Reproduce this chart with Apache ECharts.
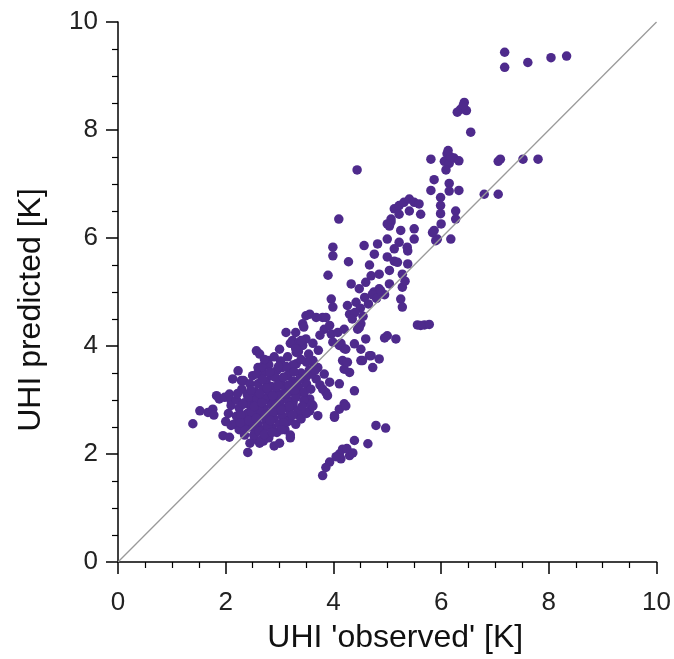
<!DOCTYPE html>
<html>
<head>
<meta charset="utf-8">
<script src="https://cdn.jsdelivr.net/npm/echarts@6/dist/echarts.min.js"></script>
<style>
html,body{margin:0;padding:0;background:#fff;}
#chart{width:674px;height:659px;}
</style>
</head>
<body>
<div id="chart"></div>
<script>
// Observed vs predicted UHI [K]
const xTicks = [0, 2, 4, 6, 8, 10];
const yTicks = [0, 2, 4, 6, 8, 10];
const oneToOne = [[0, 0], [10, 10]];

const ptsHighOutliers = [
  [7.18,9.44],[7.18,9.16],[7.61,9.25],[8.04,9.34],[8.33,9.37],
  [7.10,7.46],[7.52,7.46],[7.80,7.46],[7.06,7.42],
  [6.80,6.81],[7.06,6.81]
];
const ptsUpper = [
  [6.43,8.51],[6.36,8.38],[6.47,8.36],[6.41,8.45],[6.30,8.33],
  [6.55,7.96],
  [5.81,7.46],[6.11,7.56],[6.06,7.42],[6.15,7.38],[6.24,7.48],[6.18,7.50],[6.33,7.43],[6.09,7.26],[6.13,7.62],
  [5.87,7.08],[5.81,6.88],[6.15,7.01],[6.15,6.87],[6.33,6.88],[5.99,6.75],[5.99,6.60],[5.99,6.45],[6.00,6.26],[6.27,6.50],[6.27,6.35],
  [5.13,6.54],[5.22,6.60],[5.31,6.66],[5.41,6.72],[5.50,6.66],[5.59,6.63],[5.62,6.44],[5.41,6.50],[5.22,6.44],[5.07,6.30],
  [5.04,6.22],[5.00,5.98],[5.25,6.14],[5.50,6.17],[5.50,5.98],[5.87,6.14],[5.93,5.98],[6.18,5.98],[5.22,5.92],[5.37,5.83],
  [5.84,6.10],[5.90,5.95],[5.00,6.26],[5.07,6.35]
];
const ptsMid = [
  [4.10,6.35],[3.99,5.83],[3.99,5.67],[3.90,5.31],[4.28,5.56],[4.33,5.15],[4.57,5.86],[4.67,5.50],[4.82,5.89],[4.76,5.70],
  [5.00,5.65],[5.13,5.80],[5.13,5.57],[5.38,5.76],[5.38,5.52],[5.19,5.55],[4.70,5.30],[4.60,5.18],[4.48,5.06],[4.85,5.33],
  [4.85,5.06],[5.04,5.40],[5.04,5.15],[5.28,5.33],[5.28,5.09],[5.33,5.20],[4.95,4.95],[4.75,5.00],
  [4.44,7.26],
  [3.96,4.87],[3.99,4.72],[4.26,4.75],[4.30,4.59],[4.42,4.81],[4.50,4.70],[4.58,4.90],[4.65,4.78],[4.72,4.95],[4.80,4.88],
  [4.88,5.02],[4.40,4.62],[4.55,4.55],[4.35,4.50],
  [5.25,4.87],[5.28,4.72],
  [5.56,4.39],[5.69,4.39],[5.78,4.40],[5.62,4.38],
  [5.00,4.19],[5.16,4.13],[4.95,4.15]
];
const ptsLowerMid = [
  [4.60,4.13],[4.51,3.94],[4.70,3.82],[4.85,3.76],[4.54,3.73],[4.73,3.60],[4.39,4.04],[4.11,4.01],[4.20,3.95],[3.99,4.07],
  [4.17,3.73],[4.30,3.51],[4.20,3.57],[4.39,3.17],[4.20,2.93],[4.11,2.83],[4.02,2.68],
  [3.62,3.70],[3.55,3.55],[3.68,3.39],[3.75,3.28],[3.86,3.14],[3.49,3.02],[3.60,2.92],
  [3.49,4.56],[3.80,4.53],[3.83,4.31],[3.75,4.20],[4.51,4.41],[4.45,4.31],
  [3.56,4.59],[3.68,4.53],[3.43,4.41],[3.86,4.53],[3.93,4.38],[3.96,4.22],[4.08,4.25],[4.20,4.31],[4.14,4.05],[4.23,3.94],
  [4.26,3.70],[4.48,4.34],[4.67,3.82],[4.51,3.73],
  [3.25,4.07],[3.43,4.01],[3.31,3.88],[3.62,3.73],[3.71,3.60],[3.59,3.48],[3.83,3.48],[3.93,3.33],[3.80,3.20],[3.89,3.08],
  [4.11,3.30],[4.23,2.89],[4.02,2.71],[3.49,3.42],[3.19,3.54],[3.06,3.27],[3.37,3.14],[3.56,3.02],[3.25,2.96],[3.56,2.80],
  [3.37,2.71],[3.19,2.65],[3.71,2.71],[3.62,2.89],[3.49,2.95]
];
const ptsLowStreak = [
  [4.79,2.53],[4.97,2.48],[4.39,2.25],[4.64,2.19],[4.17,2.09],[4.30,1.97],[4.36,2.02],[4.11,2.00],[4.14,1.91],[3.93,1.85],
  [3.86,1.75],[3.80,1.60],[4.05,1.95],[4.25,2.10]
];
const ptsDense = [
  [1.39,2.56],[1.52,2.80],[1.67,2.77],[1.76,2.83],[1.78,2.72],[1.83,3.08],[1.88,3.02],[1.98,3.05],[2.07,3.11],[2.10,2.99],
  [2.13,3.39],[2.23,3.54],[2.29,3.36],[1.95,2.34],[2.07,2.31],[2.41,2.03],[2.54,2.28],[2.63,2.20],[2.70,2.24],[2.10,2.53],
  [2.57,3.91],[2.63,3.85],[2.78,3.73],[3.00,3.94],[3.12,4.25],[3.24,4.10],[3.37,4.07],[3.49,4.13],[3.31,3.67],[2.33,3.36],
  [2.00,2.60],[2.05,2.75],[2.10,2.90],[2.15,2.55],[2.20,2.70],[2.20,3.00],[2.25,2.45],[2.25,2.85],[2.30,3.20],[2.30,2.60],
  [2.35,2.95],[2.35,2.35],[2.40,2.75],[2.40,3.10],[2.45,2.50],[2.45,2.90],[2.45,3.30],[2.50,2.65],[2.50,3.00],[2.50,3.45],
  [2.55,2.40],[2.55,2.80],[2.55,3.15],[2.60,2.55],[2.60,2.95],[2.60,3.30],[2.60,3.60],[2.65,2.70],[2.65,3.05],[2.65,2.25],
  [2.70,2.45],[2.70,2.85],[2.70,3.20],[2.70,3.50],[2.75,2.60],[2.75,3.00],[2.75,3.35],[2.80,2.30],[2.80,2.75],[2.80,3.10],
  [2.80,3.65],[2.85,2.50],[2.85,2.90],[2.85,3.25],[2.85,3.45],[2.90,2.65],[2.90,3.00],[2.90,3.80],[2.95,2.40],[2.95,2.80],
  [2.95,3.15],[2.95,3.55],[3.00,2.55],[3.00,2.95],[3.00,3.30],[3.05,2.70],[3.05,3.10],[3.05,3.60],[3.10,2.45],[3.10,2.85],
  [3.10,3.25],[3.15,2.60],[3.15,3.00],[3.15,3.45],[3.15,3.80],[3.20,2.35],[3.20,2.75],[3.20,3.15],[3.20,4.05],[3.25,2.90],
  [3.25,3.35],[3.25,3.65],[3.30,2.55],[3.30,3.05],[3.30,4.25],[3.35,2.80],[3.35,3.25],[3.35,3.90],[3.40,2.65],[3.40,3.50],
  [3.40,4.10],[3.45,3.00],[3.45,4.35],[3.50,2.75],[3.50,3.30],[3.50,3.70],[2.90,2.15],[3.00,2.20],[3.20,2.30],[2.45,2.20],
  [2.35,2.50],[2.52,2.52],[2.62,2.82],[2.72,3.02],[2.78,2.52],[2.88,2.78],[2.98,3.08],[3.08,2.58],[3.18,2.88],[2.42,3.05],
  [2.58,3.48],[2.68,3.62],[2.92,3.42],[3.02,3.72],[3.12,3.62],[2.38,2.62],[2.48,2.78],[2.58,3.02],[2.68,3.38],[2.82,3.52],
  [2.28,2.72],[2.32,2.92],[2.43,2.62],[2.53,2.88],[2.63,3.12],[2.73,2.72],[2.83,2.62],[2.93,2.92],[3.03,2.82],[3.13,3.12],
  [2.47,3.18],[2.57,2.66],[2.67,2.95],[2.77,3.22],[2.87,3.08],[2.97,3.28],[3.07,3.42],[3.17,3.28],[3.27,3.52],[3.37,3.38],
  [2.22,3.12],[2.27,2.58],[2.52,2.35],[2.62,2.42],[2.72,2.36],[2.86,2.40],[3.04,2.45],[3.24,2.72],[3.42,2.88],[3.28,3.18],
  [3.46,3.15],[3.58,3.20],[3.66,3.55],[3.54,3.85],[3.40,3.75],[3.62,4.05],[3.72,3.92],[3.30,3.95],[2.98,3.62],[2.72,3.75]
];

const allPoints = [].concat(ptsHighOutliers, ptsUpper, ptsMid, ptsLowerMid, ptsLowStreak, ptsDense);

const FONT = 'Liberation Sans, Arial, Helvetica, sans-serif';
const chart = echarts.init(document.getElementById('chart'), null, {renderer: 'canvas'});
const axisCommon = {
  type: 'value', min: 0, max: 10, interval: 2,
  nameLocation: 'middle',
  nameTextStyle: {fontFamily: FONT, fontSize: 32, color: '#111'},
  axisLine: {show: true, onZero: false, lineStyle: {color: '#000', width: 1.5}},
  axisTick: {show: true, inside: false, length: 12, lineStyle: {color: '#000', width: 1.5}},
  minorTick: {show: true, splitNumber: 4, length: 6, lineStyle: {color: '#000', width: 1.2}},
  splitLine: {show: false},
  axisLabel: {fontFamily: FONT, fontSize: 26, color: '#222'}
};
chart.setOption({
  animation: false,
  backgroundColor: '#fff',
  grid: {left: 118, right: 16, top: 22, bottom: 96, containLabel: false},
  xAxis: Object.assign({}, axisCommon, {
    name: "UHI 'observed' [K]", nameGap: 60,
    nameTextStyle: Object.assign({}, axisCommon.nameTextStyle, {padding: [0, 0, 0, 16]}),
    axisLabel: Object.assign({}, axisCommon.axisLabel, {margin: 28,
      formatter: v => xTicks.includes(v) ? String(v) : ''})
  }),
  yAxis: Object.assign({}, axisCommon, {
    name: 'UHI predicted [K]', nameGap: 71, nameRotate: 90,
    nameTextStyle: Object.assign({}, axisCommon.nameTextStyle, {padding: [0, 36, 0, 0]}),
    axisLabel: Object.assign({}, axisCommon.axisLabel, {margin: 20,
      formatter: v => yTicks.includes(v) ? String(v) : ''})
  }),
  series: [
    {
      type: 'scatter', data: allPoints, symbol: 'circle', symbolSize: 9.5,
      itemStyle: {color: '#4e2a8c', opacity: 1}, z: 2
    },
    {
      type: 'line', data: oneToOne, symbol: 'none', silent: true,
      lineStyle: {color: '#9a9a9a', width: 1.3}, z: 3
    }
  ]
});
</script>
</body>
</html>
